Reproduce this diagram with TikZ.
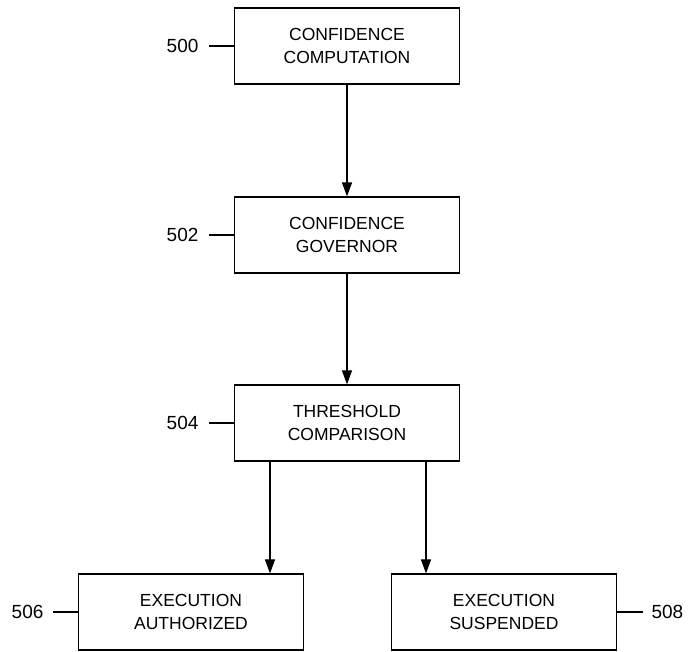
\documentclass[tikz,border=0pt]{standalone}
\usepackage{fontspec}
\setmainfont{Liberation Sans}
\usetikzlibrary{arrows.meta}
\begin{document}
\begin{tikzpicture}[x=1pt,y=-1pt,line width=1.2pt,
  blk/.style={draw,minimum width=225pt,minimum height=76pt,align=center,
    font=\fontsize{17.5}{22.5}\selectfont,inner sep=0pt},
  num/.style={inner sep=0pt,font=\fontsize{19}{20}\selectfont},
  arr/.style={-{Triangle[length=14pt,width=10pt]}}]
  \useasboundingbox (0,0) rectangle (689,652);
  \node[blk] (n500) at (347,46) {CONFIDENCE\\COMPUTATION};
  \node[blk] (n502) at (347,235) {CONFIDENCE\\GOVERNOR};
  \node[blk] (n504) at (347,423) {THRESHOLD\\COMPARISON};
  \node[blk] (n506) at (191,612) {EXECUTION\\AUTHORIZED};
  \node[blk] (n508) at (504,612) {EXECUTION\\SUSPENDED};
  \draw[arr] (n500) -- (n502);
  \draw[arr] (n502) -- (n504);
  \draw[arr] (n504.south -| 270,0) -- (n506.north -| 270,0);
  \draw[arr] (n504.south -| 426,0) -- (n508.north -| 426,0);
  % reference numerals
  \node[num,anchor=east] (l500) at (199,46) {500};
  \node[num,anchor=east] (l502) at (199,235) {502};
  \node[num,anchor=east] (l504) at (199,423) {504};
  \node[num,anchor=east] (l506) at (44,612) {506};
  \node[num,anchor=west] (l508) at (651,612) {508};
  \draw[shorten <=10pt] (l500.east) -- (n500.west);
  \draw[shorten <=10pt] (l502.east) -- (n502.west);
  \draw[shorten <=10pt] (l504.east) -- (n504.west);
  \draw[shorten <=9pt] (l506.east) -- (n506.west);
  \draw[shorten <=8pt] (l508.west) -- (n508.east);
\end{tikzpicture}
\end{document}
